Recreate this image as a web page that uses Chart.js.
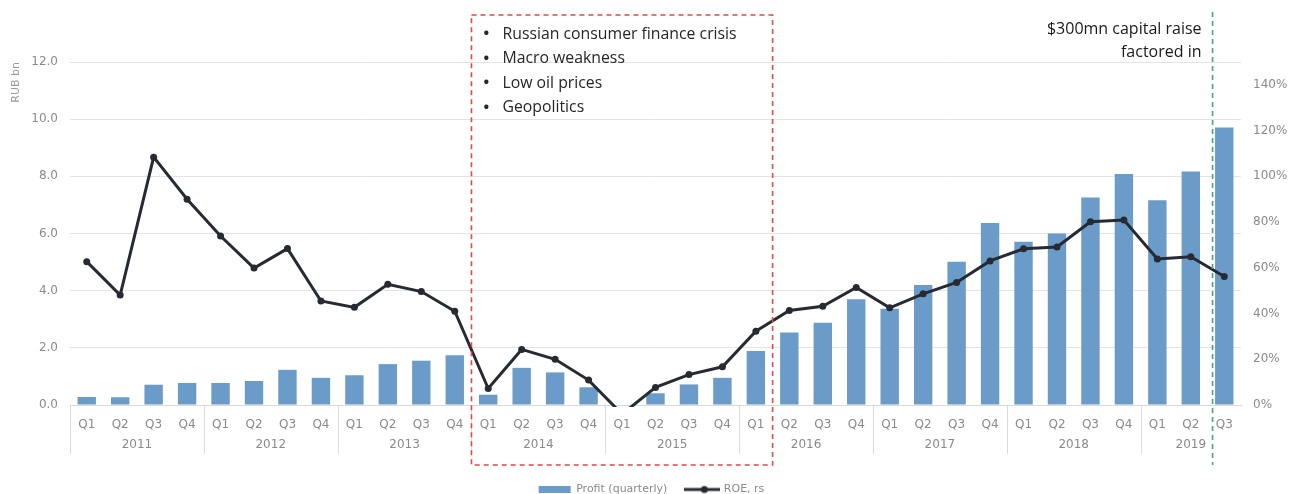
<!DOCTYPE html>
<html><head><meta charset="utf-8">
<script src="https://cdn.jsdelivr.net/npm/chart.js@4.4.0/dist/chart.umd.min.js"></script>
<style>html,body{margin:0;padding:0;background:#fff;}canvas{display:block;}</style>
</head><body>
<canvas id="c" width="1303" height="494"></canvas>
<script>
const quarterLabels = ['Q1','Q2','Q3','Q4','Q1','Q2','Q3','Q4','Q1','Q2','Q3','Q4','Q1','Q2','Q3','Q4','Q1','Q2','Q3','Q4','Q1','Q2','Q3','Q4','Q1','Q2','Q3','Q4','Q1','Q2','Q3','Q4','Q1','Q2','Q3'];
const yearLabels = ['2011','2012','2013','2014','2015','2016','2017','2018','2019'];
const quartersPerYear = [4,4,4,4,4,4,4,4,3];
const profitBn = [0.28,0.27,0.71,0.77, 0.77,0.84,1.23,0.95, 1.04,1.43,1.55,1.74, 0.36,1.30,1.14,0.62, 0,0.41,0.72,0.95, 1.89,2.54,2.88,3.70, 3.37,4.20,5.01,6.37, 5.71,6.00,7.26,8.08, 7.16,8.17,9.71];
const roePct = [62.7,48.1,108.4,90.0, 73.9,59.9,68.4,45.5, 42.7,52.8,49.6,41.0, 7.2,24.3,20.0,10.9, -4,7.7,13.3,16.7, 32.3,41.3,43.2,51.4, 42.5,48.6,53.6,63.0, 68.3,69.1,80.1,80.9, 63.9,64.8,56.2];
const leftTicks = [0,2,4,6,8,10,12];
const rightTicks = [0,20,40,60,80,100,120,140];
const crisisNotes = ['Russian consumer finance crisis','Macro weakness','Low oil prices','Geopolitics'];
const capitalNote = ['$300mn capital raise','factored in'];
const crisisSpan = [12, 20];
const capitalRaiseIndex = 34;

// derived year centres / boundaries
const yearCenters = [], yearBounds = [];
(function(){ let s = 0; quartersPerYear.forEach(n => { yearBounds.push(s - 0.5); yearCenters.push(s + (n - 1) / 2); s += n; }); })();

const lineIcon = document.createElement('canvas');
lineIcon.width = 36; lineIcon.height = 10;
(function(){ const g = lineIcon.getContext('2d'); g.strokeStyle = '#262a33'; g.lineWidth = 3; g.beginPath(); g.moveTo(0,5); g.lineTo(36,5); g.stroke(); g.fillStyle = '#262a33'; g.beginPath(); g.arc(20,5,3.5,0,Math.PI*2); g.fill(); })();

const notesPlugin = {
  id: 'notes',
  afterDraw(chart) {
    const {ctx, chartArea, scales: {x}} = chart;
    const step = x.getPixelForValue(1) - x.getPixelForValue(0);
    ctx.save();
    // axis group separators
    ctx.strokeStyle = '#dcdcdc'; ctx.lineWidth = 1;
    yearBounds.forEach(b => {
      const px = Math.round(x.getPixelForValue(b)) + 0.5;
      ctx.beginPath(); ctx.moveTo(px, chartArea.bottom + 1); ctx.lineTo(px, chartArea.bottom + 49); ctx.stroke();
    });
    // crisis box
    const x0 = x.getPixelForValue(crisisSpan[0]) - step / 2;
    const x1 = x.getPixelForValue(crisisSpan[1]) + step / 2;
    const top = chartArea.top - 47, bottom = chartArea.bottom + 60;
    ctx.strokeStyle = '#e3464b'; ctx.lineWidth = 1.6; ctx.setLineDash([5, 4]);
    ctx.strokeRect(x0, top, x1 - x0, bottom - top);
    // capital raise line
    const gx = x.getPixelForValue(capitalRaiseIndex) - 0.35 * step;
    ctx.strokeStyle = '#45a96e'; ctx.lineWidth = 1.6; ctx.setLineDash([5, 4]);
    ctx.beginPath(); ctx.moveTo(gx, chartArea.top - 50); ctx.lineTo(gx, bottom); ctx.stroke();
    ctx.setLineDash([]);
    // texts
    ctx.fillStyle = '#262626'; ctx.textBaseline = 'middle';
    crisisNotes.forEach((t, i) => {
      const y = chartArea.top - 28 + i * 24.5;
      ctx.textAlign = 'left';
      ctx.font = 'bold 15px "Open Sans"';
      ctx.fillText('\u2022', x0 + 12, y);
      ctx.font = '15.8px "Open Sans"';
      ctx.fillText(t, x0 + 31, y);
    });
    ctx.textAlign = 'right';
    ctx.font = '16px "Open Sans"';
    ctx.fillStyle = '#1a1a1a';
    capitalNote.forEach((t, i) => ctx.fillText(t, gx - 11, chartArea.top - 33 + i * 23));
    ctx.restore();
  }
};

const tickFont = {family: 'DejaVu Sans', size: 12};
const grey = '#8a8a8a';

new Chart(document.getElementById('c'), {
  data: {
    labels: quarterLabels,
    datasets: [
      {type: 'bar', label: 'Profit (quarterly)', data: profitBn, backgroundColor: '#6b9bc8', yAxisID: 'y', xAxisID: 'x', barPercentage: 0.55, categoryPercentage: 1, order: 2},
      {type: 'line', label: 'ROE, rs', data: roePct, borderColor: '#262a33', backgroundColor: '#262a33', borderWidth: 3, pointRadius: 3.5, pointBorderWidth: 0, pointBackgroundColor: '#262a33', tension: 0, yAxisID: 'y1', xAxisID: 'x', order: 1, clip: {left: 10, top: 10, right: 10, bottom: 2}}
    ]
  },
  options: {
    responsive: false, animation: false, devicePixelRatio: 1,
    layout: {padding: {top: 62, left: 0, right: 0, bottom: -11}},
    plugins: {
      tooltip: {enabled: false},
      legend: {
        position: 'bottom',
        labels: {
          usePointStyle: true, pointStyleWidth: 32, boxHeight: 7, padding: 19, color: grey,
          font: {family: 'DejaVu Sans', size: 11},
          generateLabels(chart) {
            const items = Chart.defaults.plugins.legend.labels.generateLabels(chart);
            items.sort((a, b) => a.datasetIndex - b.datasetIndex);
            items.forEach(it => { it.pointStyle = it.datasetIndex === 0 ? 'rect' : lineIcon; it.lineWidth = 0; });
            return items;
          }
        }
      }
    },
    scales: {
      x: {
        type: 'category', position: 'bottom', weight: 1, offset: true,
        grid: {display: false, drawTicks: false}, border: {display: true, color: '#d9d9d9', width: 1},
        ticks: {color: grey, font: tickFont, padding: 13, autoSkip: false, maxRotation: 0},
        afterFit(s) { s.height = 28; }
      },
      xYear: {
        type: 'linear', position: 'bottom', weight: 2, min: -0.5, max: quarterLabels.length - 0.5,
        grid: {display: false, drawTicks: false}, border: {display: false},
        afterBuildTicks(s) { s.ticks = yearCenters.map(v => ({value: v})); },
        ticks: {color: grey, font: tickFont, padding: 5, autoSkip: false, maxRotation: 0, callback: (v, i) => yearLabels[i]},
        afterFit(s) { s.height = 32; }
      },
      y: {
        position: 'left', min: 0, max: 12,
        afterBuildTicks(s) { s.ticks = leftTicks.map(v => ({value: v})); },
        ticks: {color: grey, font: tickFont, padding: 12, callback: v => Number(v).toFixed(1)},
        grid: {color: '#e4e4e4', drawTicks: false}, border: {display: false},
        title: {display: true, text: 'RUB bn', align: 'end', color: '#9a9a9a', font: {family: 'DejaVu Sans', size: 11}, padding: {top: 10, bottom: 0}},
        afterFit(s) { s.width = 70; }
      },
      y1: {
        position: 'right', min: 0, max: 150,
        afterBuildTicks(s) { s.ticks = rightTicks.map(v => ({value: v})); },
        ticks: {color: grey, font: tickFont, padding: 12, callback: v => v + '%'},
        grid: {display: false, drawTicks: false}, border: {display: false},
        afterFit(s) { s.width = 62; }
      }
    }
  },
  plugins: [notesPlugin]
});
</script>
</body></html>
